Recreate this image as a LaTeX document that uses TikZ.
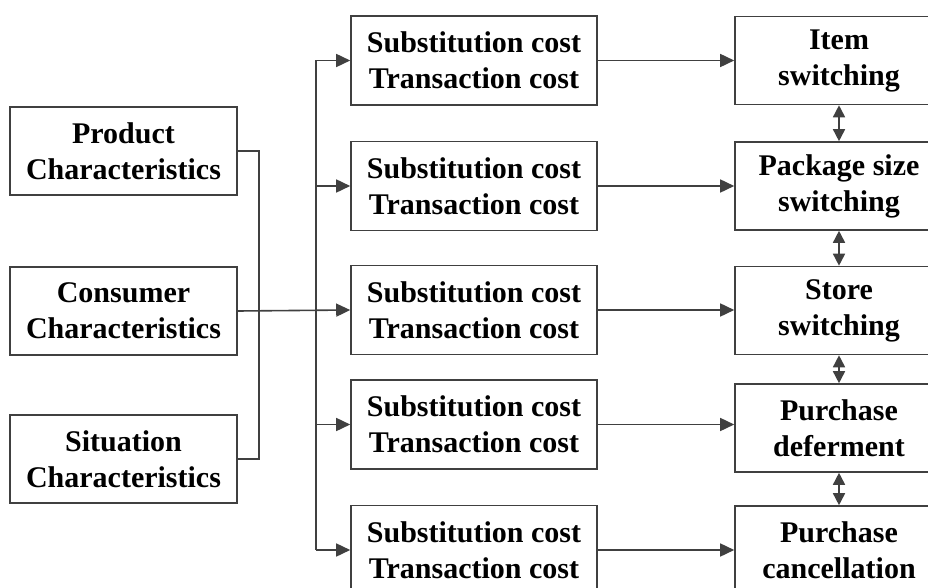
\documentclass[tikz,border=0pt]{standalone}
\usepackage{fontspec}
\setmainfont{Liberation Serif}
\usetikzlibrary{arrows.meta}

\newcommand{\colLeft  }{123.5}
\newcommand{\colMid   }{474.0}
\newcommand{\colRight }{839.0}
\newcommand{\trunkX   }{316.0}

\tikzset{
  box/.style={draw=black!75, line width=1.6pt, rectangle, align=center,
              inner sep=0pt, font=\fontsize{30}{36}\selectfont\bfseries},
  leftbox/.style={box, minimum width=227pt, minimum height=88pt},
  midbox/.style={box, minimum width=246pt, minimum height=89pt},
  rightbox/.style={box, minimum width=208pt, minimum height=88pt},
  wire/.style={line width=1.6pt, black!75},
  arr/.style={wire, -{Triangle[length=14pt,width=13pt]}},
  dblarr/.style={wire, {Triangle[length=12pt,width=12pt]}-{Triangle[length=12pt,width=12pt]}}
}

\begin{document}
\begin{tikzpicture}[x=1pt, y=-1pt]

  \clip (0,0) rectangle (928,588);
  \fill[white] (0,0) rectangle (928,588);

  % Characteristics:
  \node[leftbox] (prod) at (\colLeft, 151) {Product\\Characteristics};
  \node[leftbox] (cons) at (\colLeft, 311) {Consumer\\Characteristics};
  \node[leftbox] (situ) at (\colLeft, 459) {Situation\\Characteristics};

  % Costs:
  \node[midbox] (costA) at (\colMid,  60.5) {Substitution cost\\Transaction cost};
  \node[midbox] (costB) at (\colMid, 186.0) {Substitution cost\\Transaction cost};
  \node[midbox] (costC) at (\colMid, 310.0) {Substitution cost\\Transaction cost};
  \node[midbox] (costD) at (\colMid, 424.5) {Substitution cost\\Transaction cost};
  \node[midbox] (costE) at (\colMid, 550.0) {Substitution cost\\Transaction cost};

  % Responses:
  \node[rightbox] (item)   at (\colRight,  60.5) {Item\\switching};
  \node[rightbox] (pack)   at (\colRight, 186.0) {Package size\\switching};
  \node[rightbox] (store)  at (\colRight, 310.5) {Store\\switching};
  \node[rightbox] (defer)  at (\colRight, 428.0) {Purchase\\deferment};
  \node[rightbox] (cancel) at (\colRight, 550.0) {Purchase\\cancellation};

  % Bracket:
  \draw[wire] (prod.east) -- ++(21,0) |- (situ.east);
  \draw[arr]  (cons.east) -- (costC.west);

  % Trunk:
  \coordinate (trunkTop) at (\trunkX, 60.5);
  \coordinate (trunkBot) at (\trunkX, 550.0);
  \draw[wire] (trunkTop) -- (trunkBot);
  \draw[arr] (trunkTop) -- (costA.west);
  \draw[arr] (trunkTop |- costB.west) -- (costB.west);
  \draw[arr] (trunkTop |- costD.west) -- (costD.west);
  \draw[arr] (trunkBot) -- (costE.west);

  % Cost to response:
  \draw[arr] (costA.east) -- (item.west);
  \draw[arr] (costB.east) -- (pack.west);
  \draw[arr] (costC.east) -- (store.west |- costC.east);
  \draw[arr] (costD.east) -- (defer.west |- costD.east);
  \draw[arr] (costE.east) -- (cancel.west);

  % Between responses:
  \draw[dblarr] (item.south)  -- (pack.north);
  \draw[dblarr] (pack.south)  -- (store.north);
  \draw[dblarr] (store.south) -- (defer.north);
  \draw[dblarr] (defer.south) -- (cancel.north);

\end{tikzpicture}
\end{document}
